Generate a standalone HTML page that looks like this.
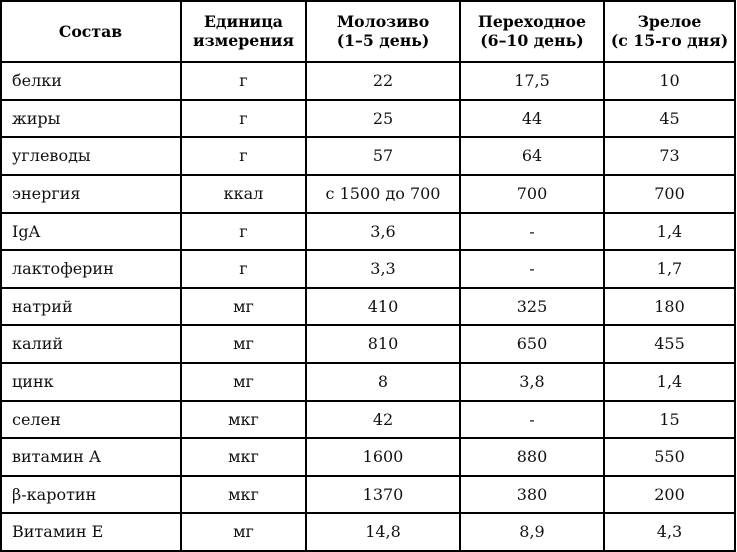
<!DOCTYPE html>
<html>
<head>
<meta charset="utf-8">
<style>
html,body{margin:0;padding:0;background:#fff;}
body{width:737px;height:552px;position:relative;overflow:hidden;font-family:"DejaVu Serif","Liberation Serif",serif;color:#111;}
.l{position:absolute;background:#000;}
.h{left:0;width:736px;height:1.5px;}
.v{top:0;height:552px;width:1.5px;}
.c{position:absolute;display:flex;align-items:center;justify-content:center;text-align:center;font-size:16px;white-space:nowrap;}
.hd{font-weight:bold;font-size:15.7px;line-height:19px;color:#000;}
.c1{left:0;width:181px;}
.c1.b{justify-content:flex-start;padding-left:12px;width:169px;}
.c2{left:181px;width:125px;}
.c3{left:306px;width:154px;}
.c4{left:460px;width:144px;}
.c5{left:604px;width:131px;}
</style>
</head>
<body>
<!-- vertical lines -->
<div class="l v" style="left:0"></div>
<div class="l v" style="left:180px"></div>
<div class="l v" style="left:305px"></div>
<div class="l v" style="left:459px"></div>
<div class="l v" style="left:603px"></div>
<div class="l v" style="left:734px"></div>
<!-- horizontal lines -->
<div class="l h" style="top:0"></div>
<div class="l h" style="top:61px"></div>
<div class="l h" style="top:99px"></div>
<div class="l h" style="top:136px"></div>
<div class="l h" style="top:174px"></div>
<div class="l h" style="top:212px"></div>
<div class="l h" style="top:249px"></div>
<div class="l h" style="top:287px"></div>
<div class="l h" style="top:324px"></div>
<div class="l h" style="top:362px"></div>
<div class="l h" style="top:400px"></div>
<div class="l h" style="top:437px"></div>
<div class="l h" style="top:475px"></div>
<div class="l h" style="top:512px"></div>
<div class="l h" style="top:550px"></div>

<!-- header -->
<div class="c hd c1" style="top:0;height:62px;">Состав</div>
<div class="c hd c2" style="top:0;height:62px;">Единица<br>измерения</div>
<div class="c hd c3" style="top:0;height:62px;">Молозиво<br>(1–5 день)</div>
<div class="c hd c4" style="top:0;height:62px;">Переходное<br>(6–10 день)</div>
<div class="c hd c5" style="top:0;height:62px;">Зрелое<br>(с 15-го дня)</div>

<!-- rows -->
<div class="c c1 b" style="top:62px;height:37.6px;">белки</div>
<div class="c c2" style="top:62px;height:37.6px;">г</div>
<div class="c c3" style="top:62px;height:37.6px;">22</div>
<div class="c c4" style="top:62px;height:37.6px;">17,5</div>
<div class="c c5" style="top:62px;height:37.6px;">10</div>

<div class="c c1 b" style="top:99.6px;height:37.6px;">жиры</div>
<div class="c c2" style="top:99.6px;height:37.6px;">г</div>
<div class="c c3" style="top:99.6px;height:37.6px;">25</div>
<div class="c c4" style="top:99.6px;height:37.6px;">44</div>
<div class="c c5" style="top:99.6px;height:37.6px;">45</div>

<div class="c c1 b" style="top:137.2px;height:37.6px;">углеводы</div>
<div class="c c2" style="top:137.2px;height:37.6px;">г</div>
<div class="c c3" style="top:137.2px;height:37.6px;">57</div>
<div class="c c4" style="top:137.2px;height:37.6px;">64</div>
<div class="c c5" style="top:137.2px;height:37.6px;">73</div>

<div class="c c1 b" style="top:174.8px;height:37.6px;">энергия</div>
<div class="c c2" style="top:174.8px;height:37.6px;">ккал</div>
<div class="c c3" style="top:174.8px;height:37.6px;">с 1500 до 700</div>
<div class="c c4" style="top:174.8px;height:37.6px;">700</div>
<div class="c c5" style="top:174.8px;height:37.6px;">700</div>

<div class="c c1 b" style="top:212.4px;height:37.6px;">IgA</div>
<div class="c c2" style="top:212.4px;height:37.6px;">г</div>
<div class="c c3" style="top:212.4px;height:37.6px;">3,6</div>
<div class="c c4" style="top:212.4px;height:37.6px;">-</div>
<div class="c c5" style="top:212.4px;height:37.6px;">1,4</div>

<div class="c c1 b" style="top:250px;height:37.6px;">лактоферин</div>
<div class="c c2" style="top:250px;height:37.6px;">г</div>
<div class="c c3" style="top:250px;height:37.6px;">3,3</div>
<div class="c c4" style="top:250px;height:37.6px;">-</div>
<div class="c c5" style="top:250px;height:37.6px;">1,7</div>

<div class="c c1 b" style="top:287.6px;height:37.6px;">натрий</div>
<div class="c c2" style="top:287.6px;height:37.6px;">мг</div>
<div class="c c3" style="top:287.6px;height:37.6px;">410</div>
<div class="c c4" style="top:287.6px;height:37.6px;">325</div>
<div class="c c5" style="top:287.6px;height:37.6px;">180</div>

<div class="c c1 b" style="top:325.2px;height:37.6px;">калий</div>
<div class="c c2" style="top:325.2px;height:37.6px;">мг</div>
<div class="c c3" style="top:325.2px;height:37.6px;">810</div>
<div class="c c4" style="top:325.2px;height:37.6px;">650</div>
<div class="c c5" style="top:325.2px;height:37.6px;">455</div>

<div class="c c1 b" style="top:362.8px;height:37.6px;">цинк</div>
<div class="c c2" style="top:362.8px;height:37.6px;">мг</div>
<div class="c c3" style="top:362.8px;height:37.6px;">8</div>
<div class="c c4" style="top:362.8px;height:37.6px;">3,8</div>
<div class="c c5" style="top:362.8px;height:37.6px;">1,4</div>

<div class="c c1 b" style="top:400.4px;height:37.6px;">селен</div>
<div class="c c2" style="top:400.4px;height:37.6px;">мкг</div>
<div class="c c3" style="top:400.4px;height:37.6px;">42</div>
<div class="c c4" style="top:400.4px;height:37.6px;">-</div>
<div class="c c5" style="top:400.4px;height:37.6px;">15</div>

<div class="c c1 b" style="top:438px;height:37.6px;">витамин А</div>
<div class="c c2" style="top:438px;height:37.6px;">мкг</div>
<div class="c c3" style="top:438px;height:37.6px;">1600</div>
<div class="c c4" style="top:438px;height:37.6px;">880</div>
<div class="c c5" style="top:438px;height:37.6px;">550</div>

<div class="c c1 b" style="top:475.6px;height:37.6px;">β-каротин</div>
<div class="c c2" style="top:475.6px;height:37.6px;">мкг</div>
<div class="c c3" style="top:475.6px;height:37.6px;">1370</div>
<div class="c c4" style="top:475.6px;height:37.6px;">380</div>
<div class="c c5" style="top:475.6px;height:37.6px;">200</div>

<div class="c c1 b" style="top:513.2px;height:37.6px;">Витамин Е</div>
<div class="c c2" style="top:513.2px;height:37.6px;">мг</div>
<div class="c c3" style="top:513.2px;height:37.6px;">14,8</div>
<div class="c c4" style="top:513.2px;height:37.6px;">8,9</div>
<div class="c c5" style="top:513.2px;height:37.6px;">4,3</div>
</body>
</html>
